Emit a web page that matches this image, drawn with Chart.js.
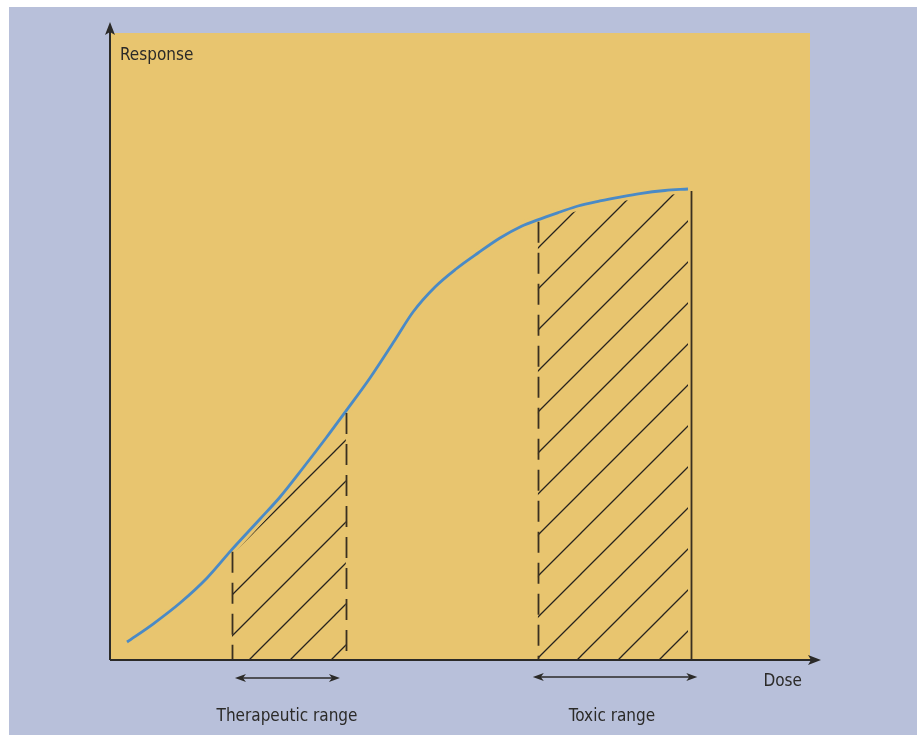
<!DOCTYPE html>
<html>
<head>
<meta charset="utf-8">
<script src="https://cdn.jsdelivr.net/npm/chart.js@4/dist/chart.umd.min.js"></script>
<style>
  html, body { margin: 0; padding: 0; background: #fff; }
  canvas { display: block; }
</style>
</head>
<body>
<canvas id="doseChart" width="923" height="737"></canvas>
<script>
// dose-response curve (dose 0-100, response 0-100)
const doses    = [2.43, 6.14, 10.0, 13.86, 17.4, 21.43, 24.29, 27.57, 30.86, 33.7, 37.14, 40.71, 43.29, 46.43, 49.43, 52.57, 55.71, 58.86, 61.1, 64.29, 66.86, 70.0, 72.86, 75.71, 79.29, 82.57];
const response = [2.87, 5.74, 9.09, 13.08, 17.6, 22.49, 26.0, 30.62, 35.41, 39.7, 44.98, 51.04, 55.5, 59.49, 62.36, 64.91, 67.3, 69.22, 70.2, 71.45, 72.41, 73.21, 73.84, 74.4, 74.88, 75.12];

const therapeuticRange = [17.4, 33.7];
const toxicRange = [61.1, 83.0];
const rangeLabels = ['Therapeutic range', 'Toxic range'];
const axisTitles = ['Response', 'Dose'];

const FONT = '17px "Liberation Sans Narrow", "DejaVu Sans Condensed", "Open Sans", sans-serif';
const INK = '#2b2a28';
const PANEL = '#e8c56f';

const points = doses.map((d, i) => ({ x: d, y: response[i] }));
const inRange = r => points.filter(p => p.x >= r[0] && p.x <= r[1]);

function curveAt(d){
  if (d >= doses[doses.length - 1]) return response[response.length - 1];
  for (let i = 1; i < doses.length; i++) {
    if (d <= doses[i]) {
      const t = (d - doses[i-1]) / (doses[i] - doses[i-1]);
      return response[i-1] + t * (response[i] - response[i-1]);
    }
  }
  return response[0];
}

// diagonal hatch pattern
const hatch = (function(){
  const c = document.createElement('canvas');
  c.width = c.height = 41;
  const g = c.getContext('2d');
  g.strokeStyle = '#26231e';
  g.lineWidth = 1.3;
  g.beginPath();
  g.moveTo(-2, 43); g.lineTo(43, -2);
  g.moveTo(-2, 2); g.lineTo(2, -2);
  g.moveTo(39, 43); g.lineTo(43, 39);
  g.stroke();
  const p = g.createPattern(c, 'repeat');
  p.setTransform(new DOMMatrix([1, 0, 0, 1, 7, 0]));
  return p;
})();

function arrowHead(ctx, x, y, dir, len, half){
  ctx.beginPath();
  if (dir === 'up') {
    ctx.moveTo(x, y); ctx.lineTo(x - half, y + len); ctx.lineTo(x, y + len - 3); ctx.lineTo(x + half, y + len);
  } else if (dir === 'right') {
    ctx.moveTo(x, y); ctx.lineTo(x - len, y - half); ctx.lineTo(x - len + 3, y); ctx.lineTo(x - len, y + half);
  } else {
    ctx.moveTo(x, y); ctx.lineTo(x + len, y - half); ctx.lineTo(x + len - 3, y); ctx.lineTo(x + len, y + half);
  }
  ctx.closePath();
  ctx.fill();
}

const backdrop = {
  id: 'backdrop',
  beforeDraw(chart){
    const { ctx, chartArea: a } = chart;
    ctx.save();
    ctx.fillStyle = '#ffffff';
    ctx.fillRect(0, 0, chart.width, chart.height);
    ctx.fillStyle = '#b8c0da';
    ctx.fillRect(9, 7, 908, 728);
    ctx.fillStyle = PANEL;
    ctx.fillRect(a.left, a.top, a.right - a.left, a.bottom - a.top);
    ctx.restore();
  }
};

const ranges = {
  id: 'ranges',
  afterDatasetsDraw(chart){
    const { ctx, scales: { x, y } } = chart;
    const base = y.getPixelForValue(0);
    const vline = (d, dashed) => {
      const px = Math.round(x.getPixelForValue(d)) + 0.5;
      ctx.setLineDash(dashed ? [21, 10] : []);
      ctx.beginPath();
      ctx.moveTo(px, y.getPixelForValue(curveAt(d)) + 2);
      ctx.lineTo(px, base);
      ctx.stroke();
    };
    ctx.save();
    ctx.strokeStyle = '#3a3020';
    ctx.lineWidth = 1.8;
    vline(therapeuticRange[0], true);
    vline(therapeuticRange[1], true);
    vline(toxicRange[0], true);
    vline(toxicRange[1], false);
    ctx.restore();
  },
  afterDraw(chart){
    const { ctx, chartArea: a, scales: { x } } = chart;
    ctx.save();
    ctx.strokeStyle = INK;
    ctx.fillStyle = INK;

    // axes with arrow heads
    ctx.lineWidth = 2;
    ctx.beginPath();
    ctx.moveTo(a.left, a.bottom);
    ctx.lineTo(a.left, 30);
    ctx.moveTo(a.left, a.bottom);
    ctx.lineTo(814, a.bottom);
    ctx.stroke();
    arrowHead(ctx, a.left, 22, 'up', 13, 5);
    arrowHead(ctx, 821, a.bottom, 'right', 13, 5);

    // double arrows under the ranges
    const opts = chart.options.plugins.ranges;
    ctx.lineWidth = 1.4;
    opts.arrows.forEach((r, i) => {
      const x0 = x.getPixelForValue(r[0]), x1 = x.getPixelForValue(r[1]);
      const yy = opts.arrowY[i];
      ctx.beginPath();
      ctx.moveTo(x0 + 6, yy); ctx.lineTo(x1 - 6, yy);
      ctx.stroke();
      arrowHead(ctx, x0, yy, 'left', 11, 4);
      arrowHead(ctx, x1, yy, 'right', 11, 4);
      ctx.font = FONT;
      ctx.textAlign = 'center';
      ctx.textBaseline = 'alphabetic';
      ctx.fillText(rangeLabels[i], opts.labelX[i], 721);
    });

    ctx.font = FONT;
    ctx.textAlign = 'left';
    ctx.fillText(axisTitles[0], 120, 60);
    ctx.textAlign = 'right';
    ctx.fillText(axisTitles[1], 802, 686);
    ctx.restore();
  }
};

const curveStyle = { pointRadius: 0, cubicInterpolationMode: 'monotone' };

new Chart(document.getElementById('doseChart'), {
  type: 'line',
  data: {
    datasets: [
      { label: 'Response', data: points, borderColor: '#4a8ac6', borderWidth: 2.8, fill: false, ...curveStyle },
      // panel-coloured band so the hatching stops short of the curve
      { label: 'gap', data: points, borderColor: PANEL, borderWidth: 9, fill: false, ...curveStyle },
      { label: rangeLabels[0], data: inRange(therapeuticRange), borderWidth: 0, borderColor: 'transparent',
        fill: 'origin', backgroundColor: hatch, ...curveStyle },
      { label: rangeLabels[1], data: inRange(toxicRange), borderWidth: 0, borderColor: 'transparent',
        fill: 'origin', backgroundColor: hatch, ...curveStyle }
    ]
  },
  options: {
    responsive: false,
    animation: false,
    layout: { padding: { left: 110, right: 113, top: 33, bottom: 77 } },
    plugins: {
      legend: { display: false },
      tooltip: { enabled: false },
      ranges: {
        arrows: [[17.85, 32.85], [60.4, 83.9]],
        arrowY: [678, 677],
        labelX: [287, 612]
      }
    },
    scales: {
      x: { type: 'linear', min: 0, max: 100, display: false },
      y: { min: 0, max: 100, display: false }
    }
  },
  plugins: [backdrop, ranges]
});
</script>
</body>
</html>
